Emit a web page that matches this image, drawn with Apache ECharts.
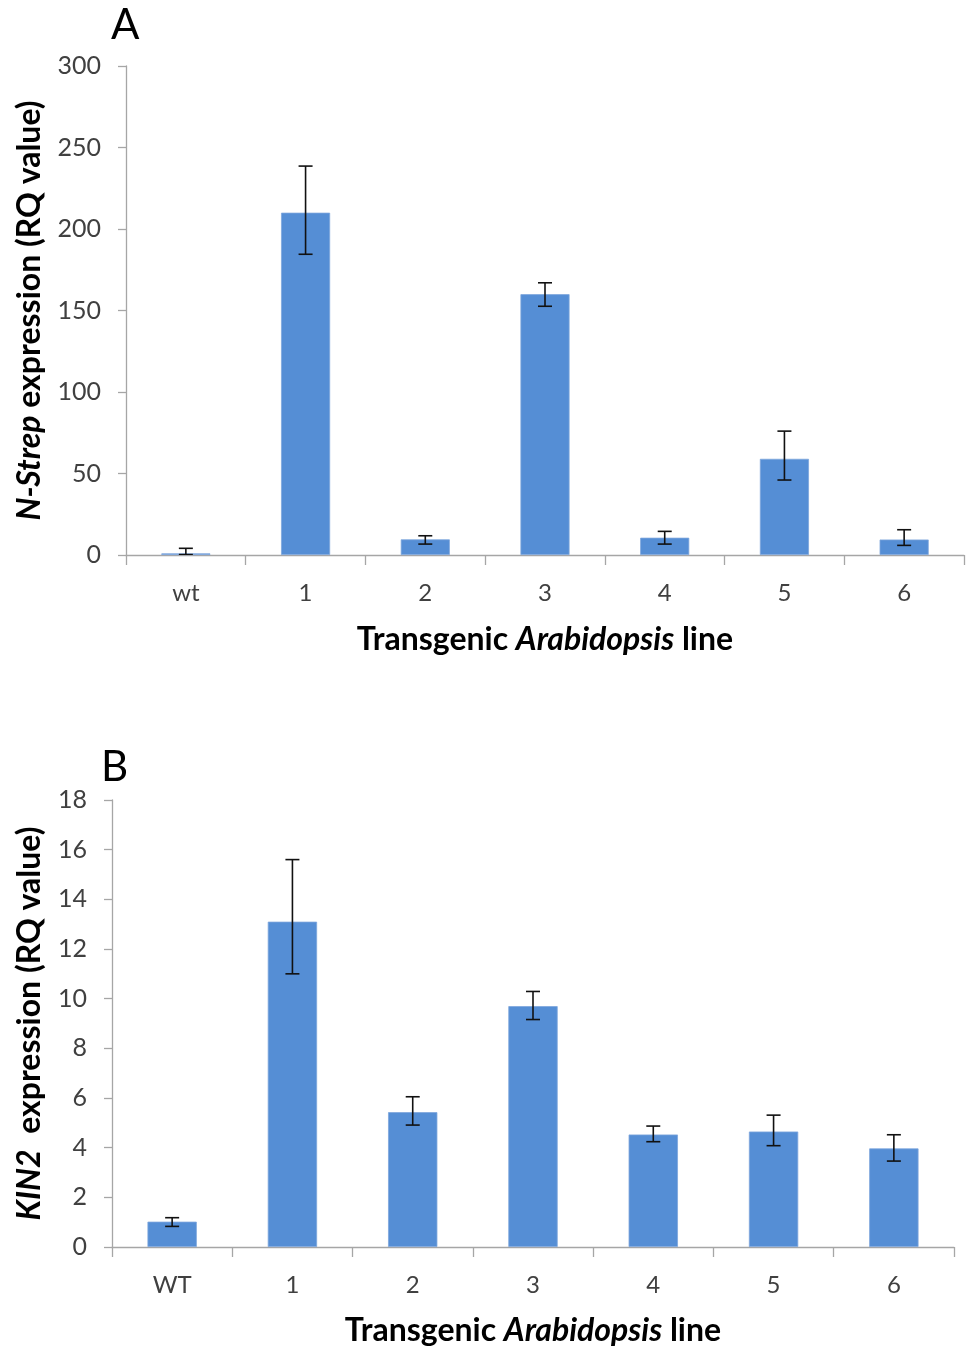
<!DOCTYPE html>
<html>
<head>
<meta charset="utf-8">
<script src="https://cdn.jsdelivr.net/npm/echarts@6/dist/echarts.min.js"></script>
<style>
  html, body { margin: 0; padding: 0; background: #fff; }
  #chart { width: 971px; height: 1350px; }
</style>
</head>
<body>
<div id="chart"></div>
<script>
// Panel A: N-Strep expression per line (RQ with RQmin / RQmax)
const linesA = ['wt', '1', '2', '3', '4', '5', '6'];
const rqA    = [1, 210, 9.6, 160, 10.6, 59, 9.5];
const rqMinA = [0.25, 184.5, 6.7, 152.6, 6.7, 46, 5.9];
const rqMaxA = [4.1, 238.6, 11.8, 167, 14.5, 76, 15.5];
const ticksA = { min: 0, max: 300, interval: 50 };

// Panel B: KIN2 expression per line
const linesB = ['WT', '1', '2', '3', '4', '5', '6'];
const rqB    = [1.02, 13.1, 5.43, 9.7, 4.53, 4.65, 3.97];
const rqMinB = [0.83, 11.0, 4.91, 9.16, 4.24, 4.08, 3.46];
const rqMaxB = [1.18, 15.6, 6.05, 10.29, 4.87, 5.31, 4.52];
const ticksB = { min: 0, max: 18, interval: 2 };

const FONT = 'Lato, "Open Sans", sans-serif';
const AXIS_GRAY = '#a6a6a6';
const BAR_BLUE = '#558ED5';

const chart = echarts.init(document.getElementById('chart'), null, { renderer: 'canvas' });

// Error bar: vertical stem from RQmin to RQmax with horizontal caps
function errorRender(params, api) {
  const x = api.value(0);
  const lo = api.coord([x, api.value(1)]);
  const hi = api.coord([x, api.value(2)]);
  const cap = 7;
  const style = { stroke: '#111', lineWidth: 1.6 };
  return {
    type: 'group',
    children: [
      { type: 'line', shape: { x1: hi[0], y1: hi[1], x2: lo[0], y2: lo[1] }, style },
      { type: 'line', shape: { x1: hi[0] - cap, y1: hi[1], x2: hi[0] + cap, y2: hi[1] }, style },
      { type: 'line', shape: { x1: lo[0] - cap, y1: lo[1], x2: lo[0] + cap, y2: lo[1] }, style }
    ]
  };
}

const titleRich = {
  b:  { fontFamily: FONT, fontSize: 32, fontWeight: 'bold', color: '#000' },
  bi: { fontFamily: FONT, fontSize: 32, fontWeight: 'bold', fontStyle: 'italic', color: '#000' }
};

function xAxis(gridIndex, cats, gap) {
  return {
    type: 'category', gridIndex, data: cats,
    axisLine: { lineStyle: { color: AXIS_GRAY, width: 1.3 } },
    axisTick: { show: true, length: 10, lineStyle: { color: AXIS_GRAY, width: 1.3 } },
    axisLabel: { fontFamily: FONT, fontSize: 24, color: '#404040', margin: 26 },
    name: '{b|Transgenic }{bi|Arabidopsis}{b| line}',
    nameLocation: 'middle', nameGap: gap,
    nameTextStyle: { rich: titleRich }
  };
}

function yAxis(gridIndex, t, name, gap) {
  return {
    type: 'value', gridIndex, min: t.min, max: t.max, interval: t.interval,
    axisLine: { show: true, lineStyle: { color: AXIS_GRAY, width: 1.3 } },
    axisTick: { show: true, length: 8, lineStyle: { color: AXIS_GRAY, width: 1.3 } },
    splitLine: { show: false },
    axisLabel: { fontFamily: FONT, fontSize: 25, color: '#404040', margin: 25 },
    name, nameLocation: 'middle', nameGap: gap,
    nameTextStyle: { rich: titleRich }
  };
}

chart.setOption({
  animation: false,
  backgroundColor: '#fff',
  grid: [
    { left: 126, right: 7, top: 66, height: 489, outerBoundsMode: 'none', containLabel: false },
    { left: 112, right: 17, top: 800, height: 447, outerBoundsMode: 'none', containLabel: false }
  ],
  xAxis: [ xAxis(0, linesA, 69), xAxis(1, linesB, 68) ],
  yAxis: [
    yAxis(0, ticksA, '{bi|N-Strep}{b| expression (RQ value)}', 80),
    yAxis(1, ticksB, '{bi|KIN2}{b|  expression (RQ value)}', 66)
  ],
  graphic: [
    { type: 'text', left: 111, top: 4, style: { text: 'A', fontFamily: FONT, fontSize: 42, fill: '#000' } },
    { type: 'text', left: 101, top: 746, style: { text: 'B', fontFamily: FONT, fontSize: 42, fill: '#000' } }
  ],
  series: [
    { type: 'bar', xAxisIndex: 0, yAxisIndex: 0, data: rqA, barWidth: '41%',
      itemStyle: { color: BAR_BLUE, borderColor: '#7ea6dc', borderWidth: 0.8 } },
    { type: 'custom', xAxisIndex: 0, yAxisIndex: 0, clip: true, z: 5,
      renderItem: errorRender,
      data: linesA.map((_, i) => [i, rqMinA[i], rqMaxA[i]]) },
    { type: 'bar', xAxisIndex: 1, yAxisIndex: 1, data: rqB, barWidth: '41%',
      itemStyle: { color: BAR_BLUE, borderColor: '#7ea6dc', borderWidth: 0.8 } },
    { type: 'custom', xAxisIndex: 1, yAxisIndex: 1, clip: true, z: 5,
      renderItem: errorRender,
      data: linesB.map((_, i) => [i, rqMinB[i], rqMaxB[i]]) }
  ]
});
</script>
</body>
</html>
